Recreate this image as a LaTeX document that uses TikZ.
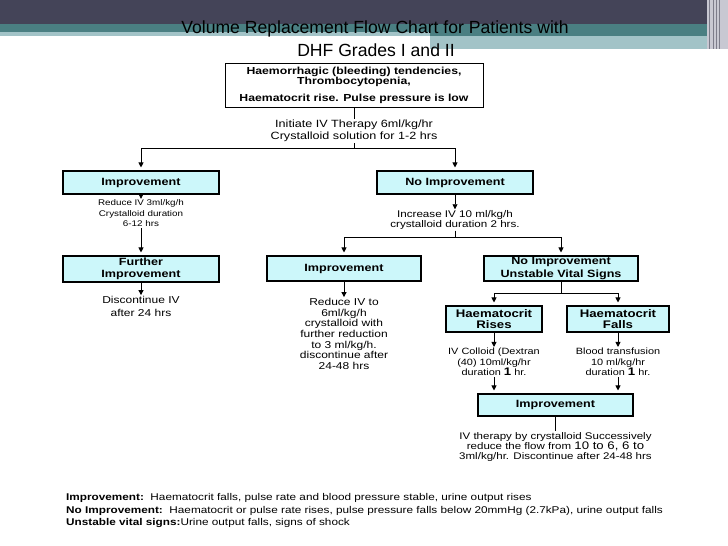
\documentclass[tikz,border=0pt]{standalone}
\usepackage{fontspec}
\setmainfont{Liberation Sans}
\newfontfamily\chartfont{Liberation Sans}[FakeStretch=1.2]
\usetikzlibrary{arrows.meta}
\definecolor{slate}{RGB}{68,68,88}
\definecolor{tealdark}{RGB}{74,127,130}
\definecolor{teallight}{RGB}{162,195,199}
\definecolor{boxcyan}{RGB}{204,247,250}
\definecolor{stripe}{RGB}{200,200,210}
\newcommand{\chartsize}[2]{\fontsize{#1}{#2}\selectfont}

\begin{document}
\begin{tikzpicture}[x=1pt,y=-1pt,
  box/.style={draw,line width=1.1pt,fill=boxcyan,align=center,inner sep=0pt,font=\chartfont\bfseries\chartsize{10.5}{12}},
  note/.style={align=center,inner sep=1pt,font=\chartfont\chartsize{8.2}{10.5}},
  arr/.style={line width=0.8pt,-{Triangle[width=5pt,length=5pt]}},
  link/.style={line width=0.8pt}]
  \fill[white] (0,0) rectangle (728,546);
  \useasboundingbox (0,0) rectangle (728,546);

  % slide header
  \fill[slate] (0,0) rectangle (707,24);
  \fill[tealdark] (0,24) rectangle (707,32);
  \fill[teallight] (0,32) rectangle (430,36);
  \fill[tealdark] (430,32) rectangle (707,36);
  \fill[teallight] (430,36) rectangle (707,49);
  \fill[stripe] (707,0) rectangle (728,49);
  \foreach \x in {709,713,716,719}
    \fill[slate!70] (\x,0) rectangle (\x+1.2,49);

  \node[anchor=base,font=\chartsize{17.6}{20}] (title1) at (375,33) {Volume Replacement Flow Chart for Patients with};
  \node[anchor=base,font=\chartsize{17.6}{20}] (title2) at (376,56) {DHF Grades I and II};

  % start
  \node[draw,line width=1pt,fill=white,minimum width=258pt,minimum height=44pt,inner sep=0pt,align=center,
        font=\chartfont\bfseries\chartsize{10.2}{9}] (top) at (354,85)
        {Haemorrhagic (bleeding) tendencies,\\Thrombocytopenia,\\[6pt]Haematocrit rise. Pulse pressure is low};
  \node[note,font=\chartfont\chartsize{10.5}{12}] (init) at (354,131) {Initiate IV Therapy 6ml/kg/hr\\Crystalloid solution for 1-2 hrs};
  \coordinate (s1) at (354,148);

  % left branch
  \node[box,minimum width=156pt,minimum height=23pt] (imp1) at (141,182.5) {Improvement};
  \node[note] (red1) at (141,213.5) {Reduce IV 3ml/kg/h\\Crystalloid duration\\6-12 hrs};
  \node[box,minimum width=156pt,minimum height=26pt] (further) at (141,269) {Further\\Improvement};
  \node[note,font=\chartfont\chartsize{10}{13}] (disc) at (141,306.5) {Discontinue IV\\after 24 hrs};

  % right branch
  \node[box,minimum width=156pt,minimum height=23pt] (noimp1) at (455,182.5) {No Improvement};
  \node[note,font=\chartfont\chartsize{9.7}{10}] (inc) at (455,220) {Increase IV 10 ml/kg/h\\crystalloid duration 2 hrs.};
  \coordinate (s2) at (455,237);
  \node[box,minimum width=154pt,minimum height=25pt] (imp2) at (344,268.5) {Improvement};
  \node[note,font=\chartfont\chartsize{10}{10.67}] (red2) at (344,334)
        {Reduce IV to\\6ml/kg/h\\crystalloid with\\further reduction\\to 3 ml/kg/h.\\discontinue after\\24-48 hrs};
  \node[box,minimum width=154pt,minimum height=25pt,font=\chartfont\bfseries\chartsize{10.5}{13.5}] (noimp2) at (561,268.5)
        {No Improvement\\Unstable Vital Signs};
  \coordinate (s3) at (561,293);
  \node[box,minimum width=96pt,minimum height=26pt,font=\chartfont\bfseries\chartsize{11}{11.5}] (rises) at (494,319) {Haematocrit\\Rises};
  \node[box,minimum width=102pt,minimum height=26pt,font=\chartfont\bfseries\chartsize{11}{11.5}] (falls) at (618,319) {Haematocrit\\Falls};
  \node[note,font=\chartfont\chartsize{9.1}{10.5}] (col) at (494,362)
        {IV Colloid (Dextran\\(40) 10ml/kg/hr\\duration {\bfseries\chartsize{11}{10.5}1} hr.};
  \node[note,font=\chartfont\chartsize{9.1}{10.5}] (blood) at (618,362)
        {Blood transfusion\\10 ml/kg/hr\\duration {\bfseries\chartsize{11}{10.5}1} hr.};
  \node[box,minimum width=155pt,minimum height=22pt] (imp3) at (555.5,405) {Improvement};
  \node[note,font=\chartfont\chartsize{9.6}{10}] (fin) at (555.5,447)
        {IV therapy by crystalloid Successively\\reduce the flow from {\chartsize{11}{10}10 to 6, 6 to}\\3ml/kg/hr. Discontinue after 24-48 hrs};

  % key
  \node[anchor=west,align=left,inner sep=0pt,font=\chartfont\chartsize{9.8}{12.5}] (key) at (66,510.5)
        {\textbf{Improvement:}\ \ Haematocrit falls, pulse rate and blood pressure stable, urine output rises\\
         \textbf{No Improvement:}\ \ Haematocrit or pulse rate rises, pulse pressure falls below 20mmHg (2.7kPa), urine output falls\\
         \textbf{Unstable vital signs:}Urine output falls, signs of shock};

  \draw[link] (top) -- (init);
  \draw[link] (init) -- (s1);
  \draw[arr,shorten >=3pt] (s1) -| (imp1);
  \draw[arr,shorten >=3pt] (s1) -| (noimp1);
  \draw[arr] (imp1) -- (red1);
  \draw[arr,shorten >=3pt] (red1) -- (further);
  \draw[arr] (further) -- (disc);
  \draw[arr] (noimp1) -- (inc);
  \draw[link] (inc) -- (s2);
  \draw[arr,shorten >=3pt] (s2) -| (imp2);
  \draw[arr,shorten >=3pt] (s2) -| (noimp2);
  \draw[arr] (imp2) -- (red2);
  \draw[link] (noimp2) -- (s3);
  \draw[arr,shorten >=3pt] (s3) -| (rises);
  \draw[arr,shorten >=3pt] (s3) -| (falls);
  \draw[arr] (rises) -- (col);
  \draw[arr] (falls) -- (blood);
  \draw[arr,shorten >=3pt] (col) -- (col |- imp3.north);
  \draw[arr,shorten >=3pt] (blood) -- (blood |- imp3.north);
  \draw[link] (imp3) -- (fin);
\end{tikzpicture}
\end{document}
